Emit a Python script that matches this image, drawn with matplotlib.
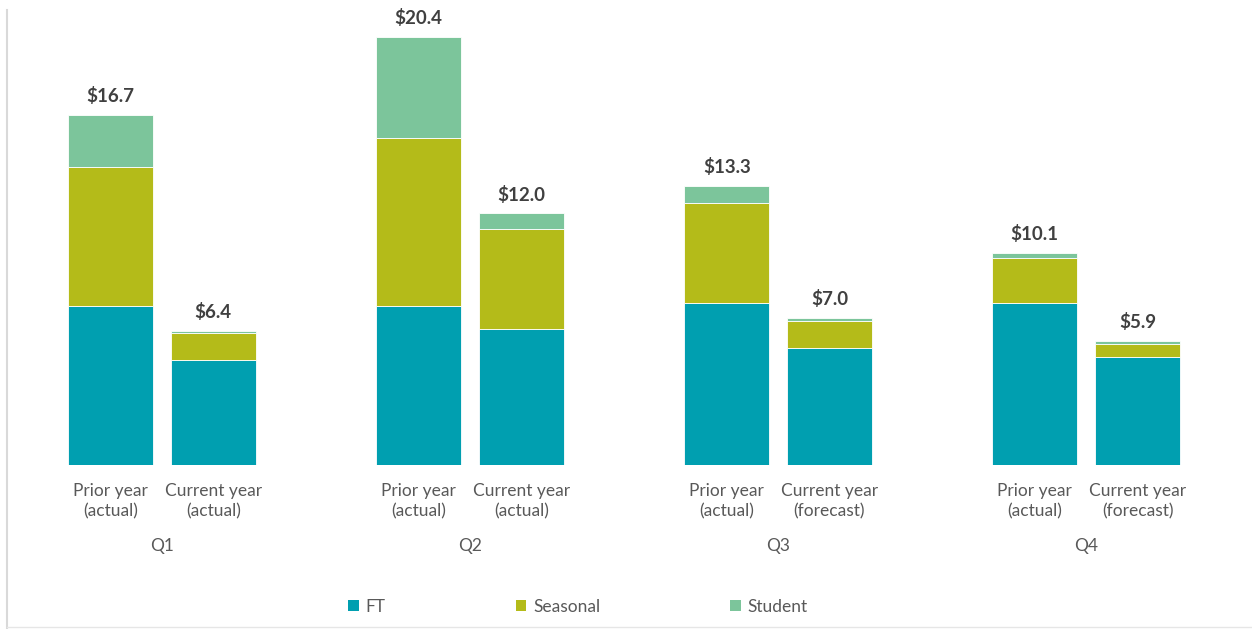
#!/usr/bin/env python3

import numpy as np
import matplotlib
matplotlib.use("Agg")
import matplotlib.pyplot as plt
from matplotlib.patches import Patch
from matplotlib.lines import Line2D

# ------------------------
# Data
# ------------------------

quarters = ["Q1", "Q2", "Q3", "Q4"]
bar_labels = [
    "Prior year\n(actual)", "Current year\n(actual)",
    "Prior year\n(actual)", "Current year\n(actual)",
    "Prior year\n(actual)", "Current year\n(forecast)",
    "Prior year\n(actual)", "Current year\n(forecast)",
]
ft = [7.6, 5.0, 7.6, 6.5, 7.7, 5.6, 7.7, 5.15]
seasonal = [6.6, 1.3, 8.0, 4.75, 4.8, 1.25, 2.15, 0.6]
student = [2.5, 0.1, 4.8, 0.75, 0.8, 0.15, 0.25, 0.15]
totals = [16.7, 6.4, 20.4, 12.0, 13.3, 7.0, 10.1, 5.9]

colors = {"FT": "#009fb0", "Seasonal": "#b4bb19", "Student": "#7cc59b"}

plt.rcParams['font.family'] = ['Lato', 'DejaVu Sans']

# ------------------------
# Plot
# ------------------------

W, H = 1252, 629
fig = plt.figure(figsize=(W / 100, H / 100), dpi=100)

# axes placed so that 1 data unit ~ 102.7 px horizontally
x_lo, x_hi = -1.0, 11.0
px_per_x = 102.7
left_px = 110.5 - px_per_x * (0 - x_lo)
width_px = px_per_x * (x_hi - x_lo)
base_px = 465
top_px = 10
ax = fig.add_axes([left_px / W, (H - base_px) / H, width_px / W, (base_px - top_px) / H])

x = np.array([3 * (i // 2) + (i % 2) for i in range(len(ft))], dtype=float)
ft_a = np.array(ft)
se_a = np.array(seasonal)
st_a = np.array(student)
bw = 0.83

ax.bar(x, ft_a, width=bw, color=colors["FT"], edgecolor="white", linewidth=0.6)
ax.bar(x, se_a, width=bw, bottom=ft_a, color=colors["Seasonal"], edgecolor="white", linewidth=0.6)
ax.bar(x, st_a, width=bw, bottom=ft_a + se_a, color=colors["Student"], edgecolor="white", linewidth=0.6)

top = ft_a + se_a + st_a
for xi, t, lab in zip(x, top, totals):
    ax.annotate(f"${lab:.1f}", (xi, t), xytext=(0, 7), textcoords="offset points",
                ha="center", va="bottom", fontsize=13.5, fontweight="bold", color="#404040")

ax.set_xlim(x_lo, x_hi)
ax.set_ylim(0, (base_px - top_px) / 20.98)
ax.set_xticks(x)
ax.set_xticklabels(bar_labels, fontsize=12.5, color="#595959", linespacing=1.3)
ax.tick_params(axis="x", length=0, pad=13)
ax.set_yticks([])
for s in ax.spines.values():
    s.set_visible(False)

# quarter labels
for i, q in enumerate(quarters):
    ax.text(3 * i + 0.5, (base_px - 546) / (base_px - top_px), q, transform=ax.get_xaxis_transform(),
            ha="center", va="center", fontsize=12.5, color="#595959")

# frame lines (left and bottom)
fig.add_artist(Line2D([7 / W, 7 / W], [0, 1 - 10 / H], color="#d9d9d9", linewidth=1.5))
fig.add_artist(Line2D([7 / W, 1], [1 - 627 / H, 1 - 627 / H], color="#e6e6e6", linewidth=1.0))

handles = [Patch(facecolor=colors[k], label=k) for k in ["FT", "Seasonal", "Student"]]
leg = fig.legend(handles=handles, loc="center", bbox_to_anchor=(578 / W, 1 - 607 / H),
                 ncol=3, frameon=False, fontsize=12.5, handlelength=0.6, handleheight=0.6,
                 handletextpad=0.4, columnspacing=7.5)
for t in leg.get_texts():
    t.set_color("#595959")

fig.savefig("out.png", dpi=100, facecolor="white")
